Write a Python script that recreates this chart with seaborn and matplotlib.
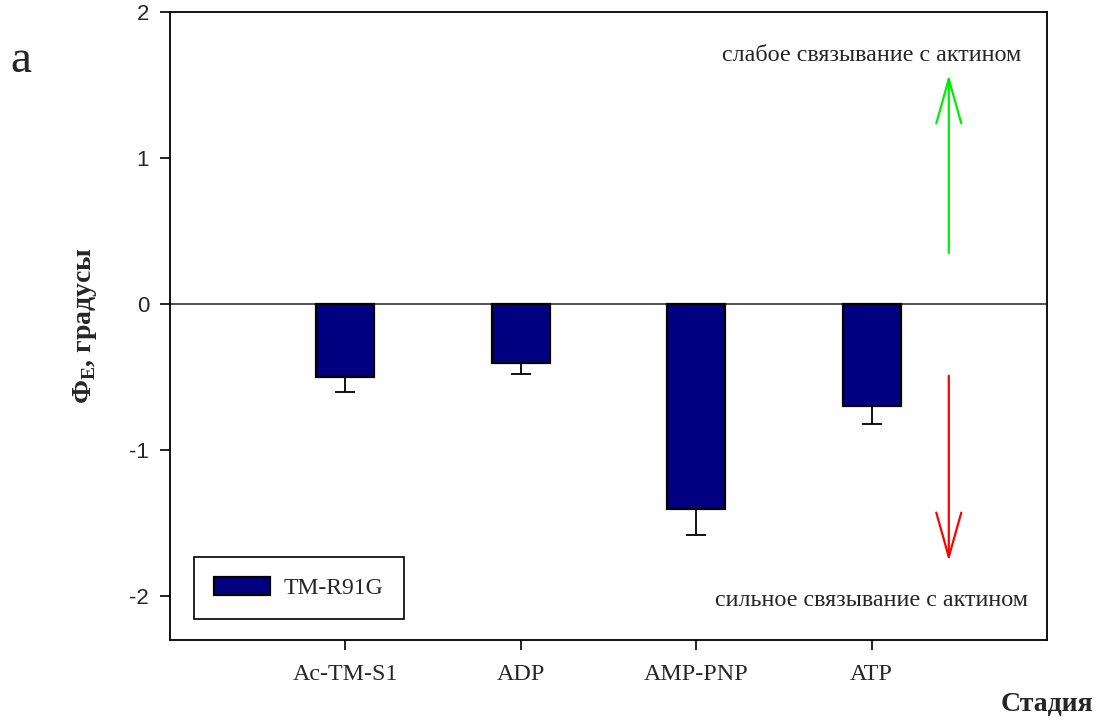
import matplotlib
matplotlib.use("Agg")
import matplotlib.pyplot as plt
import seaborn as sns
import pandas as pd
import numpy as np

# Stages of the actomyosin cycle and the measured angle shifts
stages = ["Ac-TM-S1", "ADP", "AMP-PNP", "ATP"]
phi_e = [-0.50, -0.40, -1.40, -0.70]
phi_err = [0.10, 0.08, 0.18, 0.12]
series_name = "TM-R91G"
y_ticks = [-2, -1, 0, 1, 2]

sns.set_theme(style="white")
plt.rcParams["font.family"] = ["Liberation Serif", "DejaVu Serif"]
plt.rcParams["mathtext.fontset"] = "custom"
plt.rcParams["mathtext.rm"] = "Liberation Serif"
plt.rcParams["mathtext.bf"] = "Liberation Serif:bold"

df = pd.DataFrame({"stage": stages, "phi": phi_e})

fig = plt.figure(figsize=(10.99, 7.2), dpi=100)
ax = fig.add_axes([0.1547, 0.1111, 0.798, 0.8722])

sns.barplot(data=df, x="stage", y="phi", color="#000080", saturation=1,
            edgecolor="black", linewidth=1.6, width=0.33, label=series_name,
            errorbar=None, ax=ax, zorder=3)

# one-sided (downward) error bars
xpos = np.arange(len(stages))
ax.errorbar(xpos, phi_e, yerr=[phi_err, np.zeros(len(phi_err))], fmt="none",
            ecolor="black", elinewidth=1.3, capsize=7, capthick=1.3, zorder=4)

ax.axhline(0, color="#333333", lw=1.2, zorder=2)

ax.set_xlim(-1, 4)
ax.set_ylim(-2.3, 2.0)
ax.set_yticks(y_ticks)
ax.set_yticklabels([str(t) for t in y_ticks], family="Liberation Sans", fontsize=16)
ax.set_xticks(xpos)
ax.set_xticklabels(stages, fontsize=17.3)
ax.tick_params(axis="both", direction="out", length=7, width=1.2, color="black",
               bottom=True, left=True)
ax.tick_params(axis="y", pad=8)
ax.tick_params(axis="x", pad=10)

for s in ax.spines.values():
    s.set_visible(True)
    s.set_color("black")
    s.set_linewidth(1.3)

ax.set_xlabel("")
ax.set_ylabel(r"Ф$_\mathbf{E}$, градусы", fontsize=20, fontweight="bold", labelpad=22)

fig.text(0.995, 0.004, "Стадия", ha="right", va="bottom", fontsize=20, fontweight="bold")
fig.text(0.009, 0.915, "а", ha="left", va="center", fontsize=34)

# direction arrows and captions
ax.annotate("", xy=(3.44, 1.57), xytext=(3.44, 0.35),
            arrowprops=dict(arrowstyle="->,head_length=1.6,head_width=0.45",
                            color="#00ee00", lw=1.6, mutation_scale=20,
                            shrinkA=0, shrinkB=0))
ax.annotate("", xy=(3.44, -1.76), xytext=(3.44, -0.49),
            arrowprops=dict(arrowstyle="->,head_length=1.6,head_width=0.45",
                            color="#ff0000", lw=1.6, mutation_scale=20,
                            shrinkA=0, shrinkB=0))
ax.text(3.0, 1.70, "слабое связывание с актином", ha="center", va="center", fontsize=17.4)
ax.text(3.0, -2.03, "сильное связывание с актином", ha="center", va="center", fontsize=17.4)

leg = ax.legend(loc="lower left", bbox_to_anchor=(0.027, 0.033), fontsize=17,
                frameon=True, fancybox=False, edgecolor="black", framealpha=1,
                handlelength=2.37, handleheight=0.8, handletextpad=0.6,
                borderpad=0.85, borderaxespad=0)
leg.get_frame().set_linewidth(1.2)

fig.savefig("out.png", dpi=100, facecolor="white")
